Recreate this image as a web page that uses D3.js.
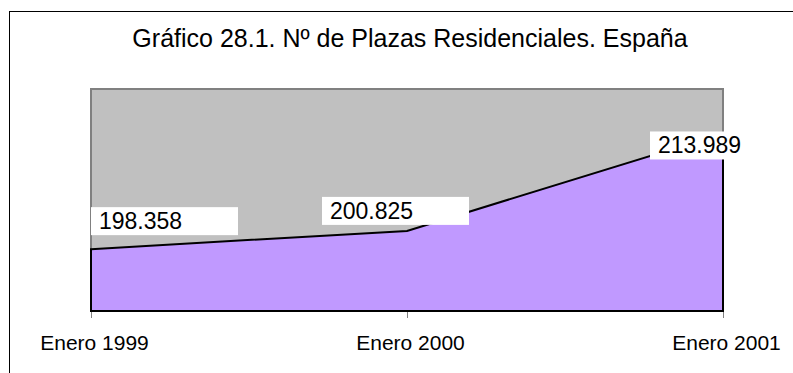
<!DOCTYPE html>
<html><head><meta charset="utf-8">
<script src="https://cdn.jsdelivr.net/npm/d3@7"></script>
<style>
  body { margin: 0; background: #fff; }
  svg { display: block; }
  text { font-family: "Liberation Sans", Arial, sans-serif; fill: #000; }
</style>
</head><body>
<svg id="chart" width="793" height="373"></svg>
<script>
// Nº de plazas residenciales en España, enero de cada año
const categories = ["Enero 1999", "Enero 2000", "Enero 2001"];
const plazas = [198358, 200825, 213989];
const yDomain = [190000, 220000];
const title = "Gráfico 28.1. Nº de Plazas Residenciales. España";

const svg = d3.select("#chart");
const plot = { left: 91, right: 723, top: 89, bottom: 311 };

const x = d3.scalePoint().domain(categories).range([plot.left, plot.right]);
const y = d3.scaleLinear().domain(yDomain).range([plot.bottom, plot.top]);

const es = d3.formatLocale({ decimal: ",", thousands: ".", grouping: [3], currency: ["", " €"] });
const fmt = es.format(",d");

// marco del gráfico
svg.append("rect")
  .attr("x", 9.5).attr("y", 11.5).attr("width", 820).attr("height", 420)
  .attr("fill", "#fff").attr("stroke", "#000").attr("stroke-width", 1);

svg.append("text")
  .attr("x", 410).attr("y", 47)
  .attr("text-anchor", "middle").attr("font-size", 25)
  .text(title);

// fondo del área de trazado
svg.append("rect")
  .attr("x", plot.left).attr("y", plot.top)
  .attr("width", plot.right - plot.left).attr("height", plot.bottom - plot.top)
  .attr("fill", "#C0C0C0").attr("stroke", "#808080").attr("stroke-width", 2);

// eje de categorías
const xAxis = svg.append("g")
  .attr("transform", `translate(0,${plot.bottom})`)
  .call(d3.axisBottom(x).tickSize(7));
xAxis.select(".domain").remove();
xAxis.selectAll(".tick line").attr("stroke", "#808080").attr("stroke-width", 1);
xAxis.selectAll(".tick text")
  .attr("font-size", 21).attr("font-family", "Liberation Sans, Arial, sans-serif")
  .attr("fill", "#000").attr("y", 39).attr("dy", 0).attr("dx", 3);

// serie de área
const data = categories.map((c, i) => ({ c, v: plazas[i] }));
const area = d3.area()
  .x(d => x(d.c))
  .y0(y(yDomain[0]))
  .y1(d => y(d.v));
svg.append("path").datum(data)
  .attr("d", area)
  .attr("fill", "#C099FF")
  .attr("stroke", "#000").attr("stroke-width", 2);

// etiquetas de datos
const labelOffsets = [ { dx: 0, dy: -42 }, { dx: -85, dy: -34 }, { dx: -73, dy: -2 } ];
const labels = svg.append("g").selectAll("g").data(data).join("g")
  .attr("transform", (d, i) => `translate(${x(d.c) + labelOffsets[i].dx},${y(d.v) + labelOffsets[i].dy})`);
labels.append("rect")
  .attr("width", 147).attr("height", 28).attr("fill", "#fff");
labels.append("text")
  .attr("x", 8).attr("y", 22).attr("font-size", 23)
  .text(d => fmt(d.v));
</script>
</body></html>
